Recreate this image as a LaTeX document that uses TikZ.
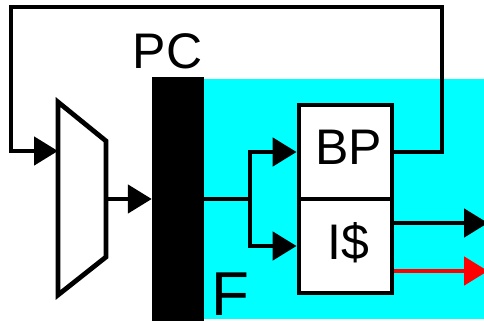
\documentclass[tikz,border=0pt]{standalone}
\usepackage{fontspec}
\setmainfont{Liberation Sans}
\usetikzlibrary{arrows.meta}
\definecolor{aqua}{RGB}{0,255,255}
\definecolor{pured}{RGB}{255,0,0}
\begin{document}
\begin{tikzpicture}[x=1pt,y=-1pt,
  wire/.style={line width=4.8pt},
  arr/.style={wire,-{Triangle[length=24pt,width=28pt]}},
  lbl/.style={font=\fontsize{50}{60}\selectfont, inner sep=0pt, anchor=base},
  box/.style={draw, fill=white, line width=4.8pt, minimum width=93pt, minimum height=94pt, inner sep=0pt}]
\useasboundingbox (0,0) rectangle (484,321);
\fill[aqua] (204,79) rectangle (484,319);
\node[fill=black, minimum width=52pt, minimum height=244pt, inner sep=0pt] (pc) at (178,199) {};
% mux
\draw[wire, line join=miter, fill=white] (58,102) -- (106,141) -- (106,257) -- (58,295) -- cycle;
\coordinate (muxin) at (58,151);
\coordinate (muxout) at (106,199);
% boxes
\node[box] (bp) at (345.5,152) {};
\node[box] (ic) at (345.5,246) {};
\coordinate (split) at (250,199);
\coordinate (out1) at (488,223);
\coordinate (out2) at (488,271);
% connectors
\draw[arr] (muxout) -- (pc.west);
\draw[wire] (pc.east) -- (split);
\draw[arr] (split) |- (bp.west);
\draw[arr] (split) |- (ic.west);
\draw[arr, line join=miter] (bp.east) -| (442,7) -| (11,151) -- (muxin);
\draw[arr] (ic.east |- out1) -- (out1);
\draw[arr, pured] (ic.east |- out2) -- (out2);
% labels
\node[lbl] (pct) at (167.5,68) {PC};
\node[lbl] (bpt) at (348.5,164) {BP};
\node[lbl] (ict) at (348.5,259) {I\$};
\node[lbl, font=\fontsize{62}{70}\selectfont, anchor=base west] (ft) at (211,315) {F};
\end{tikzpicture}
\end{document}
